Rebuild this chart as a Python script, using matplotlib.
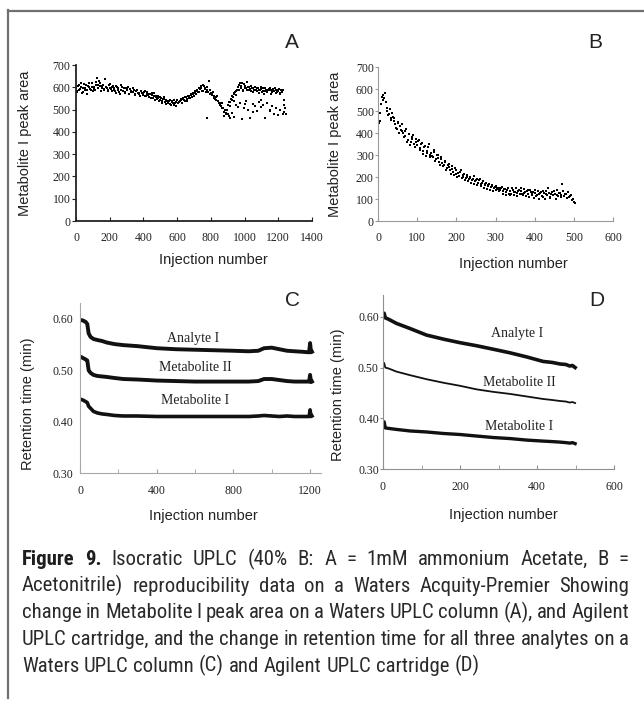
import numpy as np
import matplotlib
matplotlib.use("Agg")
import matplotlib.pyplot as plt
from matplotlib import font_manager
from matplotlib.font_manager import FontProperties
from matplotlib.lines import Line2D

W, H = 644, 707

# ---- panel A: Metabolite I peak area, Waters column (every 8th injection, two reads)
a_y1 = [598, 585, 610, 592, 603, 578, 615, 596, 588, 607, 620, 590, 600, 601, 586,
        625, 612, 630, 604,
        598, 612, 590, 603, 598, 585, 615, 594, 600, 588, 582, 605, 596, 579, 590,
        600, 584, 576, 595, 588, 570, 592, 581, 578, 586, 572, 590, 575, 568, 583,
        575, 566, 582, 560, 571, 558, 568, 575, 552, 563, 557, 548, 560, 545, 552,
        538, 548, 535, 542,
        532, 540, 525, 538, 530, 522, 536, 545, 528, 540,
        542, 550, 545, 556, 548, 560, 553, 565, 558, 570, 575, 568, 585, 580, 592,
        598, 583, 605, 592, 588,
        580, 572, 575, 565, 560, 548, 555, 538, 530, 522, 528,
        505, 490, 480, 498,
        520, 535, 548, 560, 570, 578, 585,
        600, 612, 595, 618, 590, 605, 598, 588, 602, 594, 585, 597, 590, 600, 583,
        595, 588, 592, 580, 597, 585, 590, 582, 594, 586, 578, 592, 584, 588, 580,
        590, 575, 586, 578,
        545, 505]
a_y2 = [580, 605, 590, 620, 575, 598, 588, 612, 570, 600, 593, 618, 585, 592, 610,
        640, 598, 620, 585,
        607, 592, 635, 600, 588, 610, 598, 585, 608, 595, 575, 600, 590, 572, 610,
        585, 598, 580, 592, 600, 568, 585, 578, 595, 565, 582, 590, 575, 560, 585,
        570, 578, 560, 580, 565, 572, 550, 566, 575, 545, 560, 553, 540, 558, 530,
        548, 555, 525, 538,
        528, 545, 520, 535, 542, 528, 518, 530, 535, 548,
        530, 548, 540, 555, 538, 562, 550, 568, 575, 560, 582, 590, 578, 595, 605,
        585, 610, 595, 580, 600,
        630, 590, 568, 578, 552, 545, 560, 540, 528, 515, 505,
        470, 500, 485, 478,
        535, 515, 545, 555, 575, 565, 590,
        590, 620, 605, 585, 615, 598, 625, 600, 590, 608, 596, 580, 603, 588, 597,
        575, 590, 600, 585, 572, 595, 580, 588, 598, 570, 590, 582, 596, 575, 585,
        592, 568, 580, 590,
        520, 480]
a_low_x = [776, 905, 912, 925, 938, 950, 962, 975, 985, 998, 1010, 1022, 1035, 1048,
           1060, 1072, 1085, 1098, 1110, 1122, 1135, 1148, 1160, 1172, 1185, 1196,
           1210, 1228, 940, 1000, 1050, 1100, 1150, 1236]
a_low_y = [460, 470, 460, 485, 465, 520, 510, 530, 458, 505, 540, 500, 462, 525,
           515, 495, 535, 510, 520, 460, 530, 500, 515, 480, 505, 475,
           500, 478, 540, 525, 490, 545, 495, 488]

# ---- panel B: Metabolite I peak area, Agilent cartridge (every 4th injection, two reads)
b_y1 = [470, 455, 530, 575, 560, 540, 500, 485, 470, 490,
        455, 440, 420, 450, 430, 410,
        400, 385, 420, 370, 395, 360, 380, 350, 375,
        345, 370, 330, 355, 320, 340, 310, 335, 300,
        310, 290, 325, 280, 300, 270, 290, 265,
        255, 275, 240, 260, 230, 250, 225, 240, 215,
        220, 205, 230, 200, 215, 195, 210, 190, 200, 185, 205, 180, 190,
        175, 190, 170, 180, 165, 175, 160, 170, 155, 165, 150, 160, 148,
        150, 140, 155, 135, 145, 130, 150, 138, 125, 142, 132, 148, 128, 140, 135,
        125, 145, 130, 138,
        125, 140, 118, 132, 128, 115, 135, 122, 130, 110, 126, 138, 120, 128, 105,
        132, 118, 125, 140, 112, 128, 120, 135, 115, 122, 130, 110, 118, 95, 85]
b_y2 = [445, 490, 565, 550, 580, 515, 480, 510, 460, 475,
        470, 425, 445, 400, 415, 440,
        380, 410, 360, 395, 345, 375, 390, 335, 360,
        365, 325, 350, 305, 335, 295, 320, 350, 290,
        295, 315, 275, 300, 285, 255, 280, 250,
        270, 230, 255, 245, 215, 235, 210, 230, 200,
        205, 225, 195, 210, 185, 200, 180, 195, 175, 190, 170, 185, 165,
        185, 160, 175, 150, 170, 145, 165, 140, 160, 135, 155, 140, 145,
        135, 150, 125, 145, 120, 140, 125, 118, 148, 120, 130, 115, 135, 125, 150,
        118, 128, 115, 140,
        110, 130, 125, 105, 140, 120, 98, 128, 115, 135, 100, 122, 150, 110, 125,
        118, 135, 100, 120, 128, 108, 170, 115, 125, 105, 130, 112, 120, 100, 80]

# ---- panel C: retention time, Waters column
c_x = [0, 15, 30, 38, 45, 55, 70, 90, 115, 140, 180, 226, 300, 400, 500, 600, 700,
       800, 880, 930, 960, 1000, 1040, 1080, 1120, 1160, 1195, 1200, 1205, 1210]
c_analyte = [0.598, 0.597, 0.594, 0.590, 0.572, 0.565, 0.561, 0.559, 0.557, 0.554,
             0.551, 0.549, 0.547, 0.543, 0.541, 0.540, 0.539, 0.538, 0.537, 0.538,
             0.543, 0.544, 0.541, 0.538, 0.537, 0.536, 0.535, 0.553, 0.535, 0.536]
c_met2 = [0.527, 0.524, 0.521, 0.519, 0.500, 0.495, 0.491, 0.489, 0.488, 0.487,
          0.485, 0.483, 0.482, 0.480, 0.479, 0.478, 0.478, 0.478, 0.478, 0.479,
          0.483, 0.483, 0.481, 0.479, 0.478, 0.478, 0.478, 0.491, 0.477, 0.478]
c_met1 = [0.444, 0.442, 0.439, 0.437, 0.430, 0.426, 0.420, 0.417, 0.415, 0.414,
          0.412, 0.411, 0.411, 0.410, 0.410, 0.410, 0.410, 0.410, 0.410, 0.411,
          0.412, 0.411, 0.410, 0.411, 0.410, 0.410, 0.410, 0.423, 0.410, 0.411]

# ---- panel D: retention time, Agilent cartridge
d_x = [0, 3, 6, 15, 35, 70, 113, 157, 200, 243, 287, 330, 373, 416, 440, 460, 475,
       485, 492, 499]
d_analyte = [0.600, 0.607, 0.598, 0.595, 0.587, 0.577, 0.564, 0.556, 0.549, 0.543,
             0.536, 0.529, 0.521, 0.512, 0.510, 0.507, 0.506, 0.503, 0.504, 0.500]
d_met2 = [0.502, 0.509, 0.500, 0.498, 0.492, 0.485, 0.477, 0.470, 0.464, 0.457,
          0.452, 0.448, 0.443, 0.438, 0.436, 0.434, 0.433, 0.431, 0.432, 0.430]
d_met1 = [0.383, 0.393, 0.381, 0.380, 0.378, 0.375, 0.373, 0.370, 0.368, 0.365,
          0.362, 0.360, 0.357, 0.355, 0.354, 0.353, 0.352, 0.351, 0.352, 0.350]

caption = [
    "Figure 9. Isocratic UPLC (40% B: A = 1mM ammonium Acetate, B =",
    "Acetonitrile) reproducibility data on a Waters Acquity-Premier Showing",
    "change in Metabolite I peak area on a Waters UPLC column (A), and Agilent",
    "UPLC cartridge, and the change in retention time for all three analytes on a",
    "Waters UPLC column (C) and Agilent UPLC cartridge (D)",
]

plt.rcParams["font.family"] = ["Liberation Serif", "DejaVu Serif"]
SANS = ["Liberation Sans", "DejaVu Sans"]
TXT = "#222222"


def pick_condensed():
    # look for a narrow sans face for the caption (original uses a condensed font)
    prefs = ["Roboto", "Open Sans", "Noto Sans", "Liberation Sans", "DejaVu Sans", "Lato", "Inter"]
    found = []
    for f in font_manager.fontManager.ttflist:
        nm = f.name.lower()
        fn = f.fname.lower()
        if any(k in nm for k in ("mono", "serif", "cjk", "display")) or f.style != "normal":
            continue
        cond = ("condensed" in str(f.stretch) or "condensed" in nm or "narrow" in nm
                or "condensed" in fn or "narrow" in fn or "cond" in fn)
        if not cond or "extra" in str(f.stretch) or "extra" in fn:
            continue
        rank = next((i for i, p in enumerate(prefs) if p.lower() in nm), len(prefs))
        found.append((rank, f))
    if not found:
        return None, None
    best = min(r for r, _ in found)
    fam = [f for r, f in found if r == best]
    def w(f):
        try:
            return int(f.weight)
        except (TypeError, ValueError):
            return 700 if "bold" in str(f.weight).lower() else 400
    reg = min(fam, key=lambda f: abs(w(f) - 400))
    bold = min(fam, key=lambda f: abs(w(f) - 700))
    return reg.fname, bold.fname


def box(l, t, r, b):
    return [l / W, 1 - b / H, (r - l) / W, (b - t) / H]


def frame(ax, col, lw=1.0):
    for s in ("top", "right"):
        ax.spines[s].set_visible(False)
    for s in ("left", "bottom"):
        ax.spines[s].set_color(col)
        ax.spines[s].set_linewidth(lw)


fig = plt.figure(figsize=(W / 100, H / 100), dpi=100)

# outer box lines
fig.add_artist(Line2D([8 / W, 1], [1 - 11 / H, 1 - 11 / H], color="#707070", lw=1.6))
fig.add_artist(Line2D([8 / W, 8 / W], [1 - 10 / H, 1 - 698 / H], color="#707070", lw=1.6))

# ---- A
ax = fig.add_axes(box(76, 65, 312, 221))
ax.plot(np.arange(len(a_y1)) * 8, a_y1, "s", ms=2.0, color="black", mew=0)
ax.plot(np.arange(len(a_y2)) * 8 + 4, a_y2, "s", ms=2.0, color="black", mew=0)
ax.plot(a_low_x, a_low_y, "s", ms=2.0, color="black", mew=0)
ax.set_xlim(0, 1400)
ax.set_ylim(0, 700)
ax.set_xticks(range(0, 1401, 200))
ax.set_yticks(range(0, 701, 100))
frame(ax, "#222222", 1.3)
ax.tick_params(axis="y", direction="out", length=3, color="#222", pad=1, labelsize=8.5, labelcolor=TXT)
ax.tick_params(axis="x", direction="in", length=3, color="#222", pad=8, labelsize=8.5, labelcolor=TXT)
ax.set_xlabel("Injection number", family=SANS, fontsize=10.5, color=TXT)
ax.set_ylabel("Metabolite I peak area", family=SANS, fontsize=10.5, color=TXT)
ax.xaxis.set_label_coords(0.58, -0.205)
ax.yaxis.set_label_coords(-0.186, 0.5)

# ---- B
ax = fig.add_axes(box(378, 67, 613, 221))
ax.plot(np.arange(len(b_y1)) * 4, b_y1, "s", ms=1.9, color="black", mew=0)
ax.plot(np.arange(len(b_y2)) * 4 + 2, b_y2, "s", ms=1.9, color="black", mew=0)
ax.set_xlim(0, 600)
ax.set_ylim(0, 700)
ax.set_xticks(range(0, 601, 100))
ax.set_yticks(range(0, 701, 100))
frame(ax, "#9a9a9a", 0.8)
ax.tick_params(axis="y", direction="out", length=2, color="#9a9a9a", pad=1, labelsize=8.5, labelcolor=TXT)
ax.tick_params(axis="x", direction="in", length=3, color="#9a9a9a", pad=8, labelsize=8.5, labelcolor=TXT)
ax.set_xlabel("Injection number", family=SANS, fontsize=10.5, color=TXT)
ax.set_ylabel("Metabolite I peak area", family=SANS, fontsize=10.5, color=TXT)
ax.xaxis.set_label_coords(0.574, -0.234)
ax.yaxis.set_label_coords(-0.153, 0.5)

# ---- C
ax = fig.add_axes(box(80, 303, 321, 473))
ax.plot(c_x, c_analyte, color="#111", lw=2.8)
ax.plot(c_x, c_met2, color="#111", lw=2.8)
ax.plot(c_x, c_met1, color="#111", lw=2.6)
ax.text(590, 0.5625, "Analyte I", ha="center", va="center", fontsize=10, color=TXT)
ax.text(600, 0.506, "Metabolite II", ha="center", va="center", fontsize=10, color=TXT)
ax.text(600, 0.442, "Metabolite I", ha="center", va="center", fontsize=10, color=TXT)
ax.set_xlim(0, 1257)
ax.set_ylim(0.30, 0.631)
ax.set_xticks([0, 400, 800, 1200])
ax.set_xticks(range(0, 1257, 200), minor=True)
ax.set_yticks([0.30, 0.40, 0.50, 0.60])
ax.set_yticklabels(["0.30", "0.40", "0.50", "0.60"])
frame(ax, "#a8a8a8", 0.8)
ax.tick_params(axis="y", length=0, pad=5, labelsize=8.5, labelcolor=TXT)
ax.tick_params(axis="x", which="both", direction="in", length=3, color="#a0a0a0", pad=9,
               labelsize=8.5, labelcolor=TXT)
ax.set_xlabel("Injection number", family=SANS, fontsize=10.5, color=TXT)
ax.set_ylabel("Retention time (min)", family=SANS, fontsize=10.5, color=TXT)
ax.xaxis.set_label_coords(0.51, -0.21)
ax.yaxis.set_label_coords(-0.187, 0.406)

# ---- D
ax = fig.add_axes(box(383, 295, 614, 469))
ax.plot(d_x, d_analyte, color="#111", lw=2.6)
ax.plot(d_x, d_met2, color="#111", lw=1.3)
ax.plot(d_x, d_met1, color="#111", lw=2.4)
ax.text(347, 0.568, "Analyte I", ha="center", va="center", fontsize=10, color=TXT)
ax.text(354, 0.470, "Metabolite II", ha="center", va="center", fontsize=10, color=TXT)
ax.text(354, 0.383, "Metabolite I", ha="center", va="center", fontsize=10, color=TXT)
ax.set_xlim(0, 600)
ax.set_ylim(0.30, 0.643)
ax.set_xticks([0, 200, 400, 600])
ax.set_xticks(range(0, 601, 100), minor=True)
ax.set_yticks([0.30, 0.40, 0.50, 0.60])
ax.set_yticklabels(["0.30", "0.40", "0.50", "0.60"])
frame(ax, "#909090", 0.8)
ax.tick_params(axis="y", direction="out", length=2, color="#909090", pad=1, labelsize=8.5, labelcolor=TXT)
ax.tick_params(axis="x", which="both", direction="in", length=3, color="#909090", pad=9,
               labelsize=8.5, labelcolor=TXT)
ax.set_xlabel("Injection number", family=SANS, fontsize=10.5, color=TXT)
ax.set_ylabel("Retention time (min)", family=SANS, fontsize=10.5, color=TXT)
ax.xaxis.set_label_coords(0.52, -0.224)
ax.yaxis.set_label_coords(-0.165, 0.425)

# panel letters
for lab, px, py in [("A", 292, 43), ("B", 595, 43), ("C", 292, 300), ("D", 597, 300)]:
    fig.text(px / W, 1 - py / H, lab, family=SANS, fontsize=15, color=TXT,
             ha="center", va="center")

# ---- caption, justified word by word
reg_f, bold_f = pick_condensed()


def cap_font(bold, size):
    if reg_f is None:
        return FontProperties(family=SANS, weight="bold" if bold else "normal", size=size)
    if bold and bold_f != reg_f:
        return FontProperties(fname=bold_f, size=size)
    return FontProperties(fname=reg_f, weight="bold" if bold else "normal", size=size)


r = fig.canvas.get_renderer()
probe = fig.text(0, 0, caption[-1], fontproperties=cap_font(False, 10))
fs = 10 * 455 / probe.get_window_extent(r).width
probe.remove()
p1 = fig.text(0, 0, "x x", fontproperties=cap_font(False, fs))
p2 = fig.text(0, 0, "xx", fontproperties=cap_font(False, fs))
space = p1.get_window_extent(r).width - p2.get_window_extent(r).width
p1.remove()
p2.remove()

left, right = 22, 629
for li, line in enumerate(caption):
    base = 565 + li * 26.7
    words = line.split()
    arts = []
    for wi, w in enumerate(words):
        bold = li == 0 and wi < 2
        arts.append(fig.text(0, 1 - base / H, w, fontproperties=cap_font(bold, fs),
                             color="#1e1e1e" if bold else "#2a2a2a", va="baseline"))
    widths = [t.get_window_extent(r).width for t in arts]
    if li < len(caption) - 1:
        gap = (right - left - sum(widths)) / (len(words) - 1)
    else:
        gap = space
    x = left
    for t, w in zip(arts, widths):
        t.set_x(x / W)
        x += w + gap

fig.savefig("out.png", dpi=100)
